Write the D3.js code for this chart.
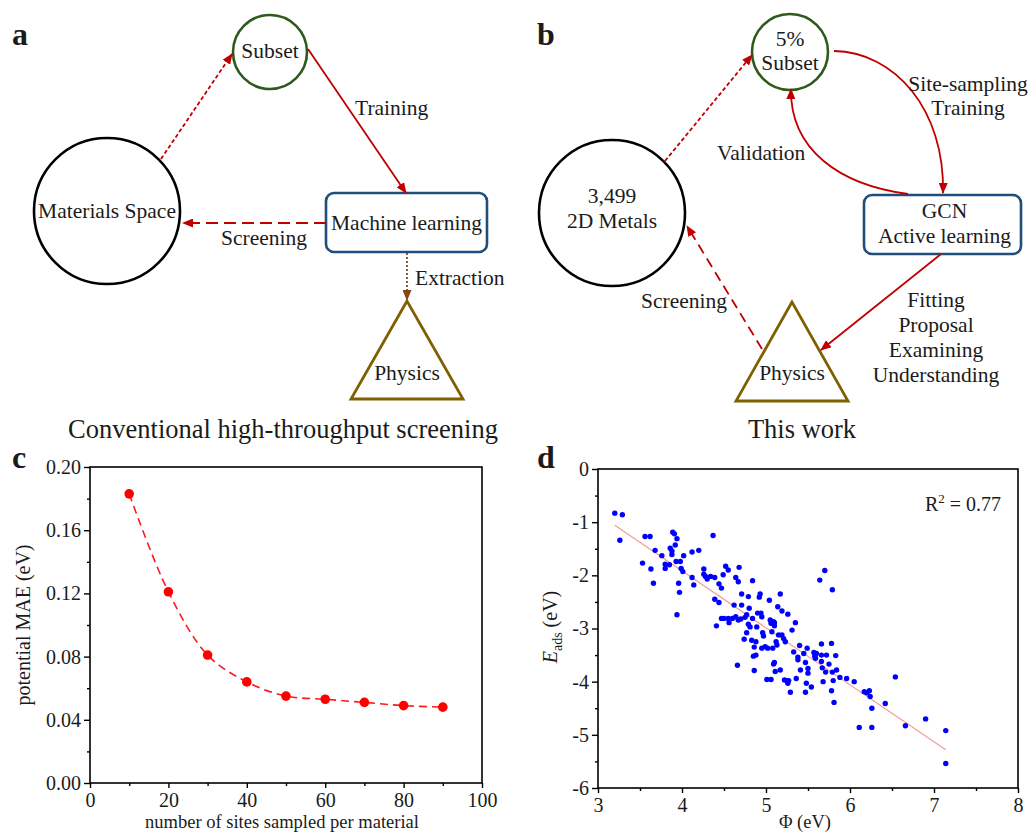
<!DOCTYPE html>
<html>
<head>
<meta charset="utf-8">
<script src="https://cdn.jsdelivr.net/npm/d3@7"></script>
<style>
  body { margin: 0; background: #fff; }
  svg { display: block; }
  text { font-family: "Liberation Serif", "Times New Roman", serif; fill: #1b1b1b; }
</style>
</head>
<body>
<svg id="fig" width="1030" height="832"></svg>
<script>
"use strict";

// ---- panel c : potential MAE vs number of sampled sites ----
const sitesSampled = [10, 20, 30, 40, 50, 60, 70, 80, 90];
const potentialMAE = [0.183, 0.121, 0.081, 0.064, 0.055, 0.053, 0.051, 0.049, 0.048];
const cTicksX = [0, 20, 40, 60, 80, 100];
const cMinorX = [10, 30, 50, 70, 90];
const cTicksY = [0, 0.04, 0.08, 0.12, 0.16, 0.20];
const cMinorY = [0.02, 0.06, 0.10, 0.14, 0.18];

// ---- panel d : adsorption energy vs work function ----
const workFunction = [
  3.20, 3.29, 3.26, 3.56, 3.62, 3.53, 3.63, 3.66, 3.68, 3.76,
  3.80, 3.80, 3.85, 3.86, 3.88, 3.88, 3.89, 3.91, 3.92, 3.93,
  3.94, 3.96, 3.97, 3.94, 3.98, 3.99, 4.01, 4.02, 4.12, 4.20,
  4.12, 4.14, 4.37, 4.26, 4.26, 4.28, 4.30, 4.34, 4.39, 4.44,
  4.47, 4.49, 4.39, 4.44, 4.41, 4.47, 4.50, 4.52, 4.55, 4.55,
  4.56, 4.60, 4.62, 4.64, 4.67, 4.68, 4.64, 4.67, 4.70, 4.71,
  4.71, 4.66, 4.74, 4.77, 4.75, 4.77, 4.79, 4.80, 4.79, 4.81,
  4.83, 4.84, 4.84, 4.86, 4.85, 4.88, 4.86, 4.88, 4.89, 4.90,
  4.92, 4.93, 4.94, 4.95, 4.96, 4.97, 4.95, 4.99, 5.01, 5.02,
  5.04, 5.05, 5.06, 5.07, 5.06, 5.08, 5.09, 5.10, 5.10, 5.09,
  5.10, 5.11, 5.12, 5.13, 5.14, 5.15, 5.17, 5.17, 5.19, 5.19,
  5.21, 5.23, 5.22, 5.25, 5.26, 5.27, 5.26, 5.29, 5.31, 5.33,
  5.35, 5.36, 5.38, 5.38, 5.40, 5.41, 5.45, 5.47, 5.47, 5.49,
  5.48, 5.50, 5.50, 5.54, 5.57, 5.58, 5.59, 5.60, 5.64, 5.66,
  5.66, 5.66, 5.67, 5.68, 5.70, 5.71, 5.72, 5.75, 5.78, 5.79,
  5.78, 5.79, 5.80, 5.81, 5.83, 5.84, 5.88, 5.96, 6.05, 6.11,
  6.17, 6.20, 6.23, 6.24, 6.26, 6.26, 6.42, 6.54, 6.66, 6.90,
  7.14, 7.14
];
const adsEnergy = [
  -0.83, -0.86, -1.34, -1.27, -1.27, -1.77, -1.88, -2.15, -1.53, -1.63,
  -1.79, -1.87, -1.80, -1.49, -1.54, -1.61, -1.19, -1.22, -1.43, -1.74,
  -1.31, -2.15, -2.32, -2.74, -1.74, -1.87, -1.93, -1.63, -1.56, -1.53,
  -2.04, -2.18, -1.25, -1.88, -1.98, -2.02, -2.07, -2.02, -2.04, -2.16,
  -2.24, -1.99, -2.45, -2.51, -2.95, -2.81, -2.81, -1.83, -1.90, -2.81,
  -2.89, -2.81, -2.56, -2.04, -2.12, -1.85, -2.78, -2.84, -2.82, -2.35,
  -2.56, -3.69, -3.20, -3.08, -2.79, -2.74, -2.40, -2.62, -2.92, -2.97,
  -3.22, -2.10, -2.81, -3.35, -3.52, -3.50, -3.79, -3.25, -2.97, -2.71,
  -2.41, -2.35, -2.71, -2.78, -3.08, -3.14, -3.37, -3.34, -3.96, -3.37,
  -2.47, -2.84, -2.90, -3.06, -3.96, -3.37, -2.87, -2.95, -2.89, -3.67,
  -3.64, -3.81, -3.25, -3.31, -2.59, -3.12, -2.35, -3.78, -3.12, -2.67,
  -3.19, -3.25, -3.97, -3.98, -4.03, -3.98, -2.73, -4.20, -3.03, -3.44,
  -2.89, -3.94, -3.54, -3.59, -3.32, -3.78, -3.47, -3.64, -4.20, -3.37,
  -4.03, -3.75, -3.84, -4.10, -3.45, -3.52, -3.56, -3.47, -2.09, -3.62,
  -3.29, -3.50, -3.74, -4.00, -1.91, -3.82, -3.50, -3.67, -3.28, -2.27,
  -4.17, -3.82, -3.98, -4.39, -3.51, -3.78, -3.92, -3.94, -4.00, -4.86,
  -4.19, -4.21, -4.17, -4.28, -4.50, -4.86, -4.41, -3.91, -4.83, -4.70,
  -4.92, -5.54
];
const dTicksX = [3, 4, 5, 6, 7, 8];
const dMinorX = [3.5, 4.5, 5.5, 6.5, 7.5];
const dTicksY = [0, -1, -2, -3, -4, -5, -6];
const dMinorY = [-0.5, -1.5, -2.5, -3.5, -4.5, -5.5];
const rSquaredText = "0.77";

const RED = "#c00000";
const BROWN = "#8b4513";

const svg = d3.select("#fig");

/**
 * Defines the arrow head markers used by the diagram arrows.
 */
function createMarkers(svg) {
  let defs = svg.append("defs");
  [["head-red", RED], ["head-brown", BROWN]].forEach(([id, color]) => {
    defs.append("marker")
      .attr("id", id)
      .attr("markerUnits", "userSpaceOnUse")
      .attr("markerWidth", 11)
      .attr("markerHeight", 9)
      .attr("refX", 10)
      .attr("refY", 4.5)
      .attr("orient", "auto")
      .append("path")
      .attr("d", "M0,0 L11,4.5 L0,9 Z")
      .attr("fill", color);
  });
}

/**
 * Writes a block of centred text lines.
 */
function writeLines(g, x, y, lines, size, lineHeight, anchor) {
  let t = g.append("text")
    .attr("x", x)
    .attr("y", y)
    .attr("font-size", size)
    .attr("text-anchor", anchor || "middle");
  lines.forEach((line, i) => {
    t.append("tspan")
      .attr("x", x)
      .attr("dy", i == 0 ? 0 : lineHeight)
      .text(line);
  });
}

function drawCircleNode(g, node, color) {
  g.append("circle")
    .attr("cx", node.cx).attr("cy", node.cy).attr("r", node.r)
    .attr("fill", "none").attr("stroke", color).attr("stroke-width", 2.6);
}

function drawRectNode(g, node) {
  g.append("rect")
    .attr("x", node.x).attr("y", node.y)
    .attr("width", node.w).attr("height", node.h)
    .attr("rx", 8)
    .attr("fill", "none").attr("stroke", "#1f4e79").attr("stroke-width", 2.6);
}

function drawTriangleNode(g, node) {
  let pts = [[node.cx, node.top], [node.cx - node.half, node.base], [node.cx + node.half, node.base]];
  g.append("path")
    .attr("d", "M" + pts.join("L") + "Z")
    .attr("fill", "none").attr("stroke", "#7f6000").attr("stroke-width", 2.8)
    .attr("stroke-linejoin", "miter");
}

function drawArrow(g, d, color, dash, marker) {
  g.append("path")
    .attr("d", d)
    .attr("fill", "none")
    .attr("stroke", color)
    .attr("stroke-width", 1.8)
    .attr("stroke-dasharray", dash)
    .attr("marker-end", "url(#" + marker + ")");
}

/**
 * Panel a : conventional high-throughput screening workflow.
 */
function drawPanelA(g) {
  let subset = { cx: 270, cy: 52, r: 37 };
  let space = { cx: 107, cy: 211, r: 73 };
  let ml = { x: 326, y: 193, w: 161, h: 59 };
  let phys = { cx: 407, top: 301, base: 399, half: 56 };

  drawCircleNode(g, subset, "#2e5a1c");
  drawCircleNode(g, space, "#000");
  drawRectNode(g, ml);
  drawTriangleNode(g, phys);

  drawArrow(g, "M161,159 L232,54", RED, "4,2.5", "head-red");
  drawArrow(g, "M308,49 L406,193", RED, null, "head-red");
  drawArrow(g, "M326,223 L183,223", RED, "12,6", "head-red");
  drawArrow(g, "M407,253 L407,300", BROWN, "2,2", "head-brown");

  writeLines(g, subset.cx, 58, ["Subset"], 21.5);
  writeLines(g, space.cx, 218, ["Materials Space"], 21.5);
  writeLines(g, ml.x + ml.w / 2, 230, ["Machine learning"], 21.5);
  writeLines(g, phys.cx, 380, ["Physics"], 21.5);
  writeLines(g, 355, 115, ["Training"], 21.5, 0, "start");
  writeLines(g, 221, 245, ["Screening"], 21.5, 0, "start");
  writeLines(g, 415, 285, ["Extraction"], 21.5, 0, "start");
  writeLines(g, 283, 438, ["Conventional high-throughput screening"], 26.5);

  g.append("text").attr("x", 12).attr("y", 45)
    .attr("font-size", 32).attr("font-weight", "bold").text("a");
}

/**
 * Panel b : active learning workflow of this work.
 */
function drawPanelB(g) {
  let subset = { cx: 790, cy: 52, r: 38 };
  let metals = { cx: 612, cy: 213, r: 73 };
  let gcn = { x: 864, y: 195, w: 157, h: 59 };
  let phys = { cx: 792, top: 302, base: 401, half: 56 };

  drawCircleNode(g, subset, "#2e5a1c");
  drawCircleNode(g, metals, "#000");
  drawRectNode(g, gcn);
  drawTriangleNode(g, phys);

  drawArrow(g, "M665,161 L752,55", RED, "4,2.5", "head-red");
  drawArrow(g, "M834,51 C895,52 945,110 943,193", RED, null, "head-red");
  drawArrow(g, "M908,194 C840,185 790,150 791,89", RED, null, "head-red");
  drawArrow(g, "M941,254 L821,350", RED, null, "head-red");
  drawArrow(g, "M762,349 L687,226", RED, "10,6", "head-red");

  writeLines(g, subset.cx, 46, ["5%", "Subset"], 21.5, 24);
  writeLines(g, metals.cx, 203, ["3,499", "2D Metals"], 21.5, 25);
  writeLines(g, gcn.x + gcn.w / 2 + 2, 218, ["GCN", "Active learning"], 21.5, 25);
  writeLines(g, phys.cx, 380, ["Physics"], 21.5);
  writeLines(g, 968, 91, ["Site-sampling", "Training"], 21.5, 24);
  writeLines(g, 717, 160, ["Validation"], 21.5, 0, "start");
  writeLines(g, 641, 308, ["Screening"], 21.5, 0, "start");
  writeLines(g, 936, 307, ["Fitting", "Proposal", "Examining", "Understanding"], 21.5, 25);
  writeLines(g, 802, 438, ["This work"], 26.5);

  g.append("text").attr("x", 537).attr("y", 45)
    .attr("font-size", 32).attr("font-weight", "bold").text("b");
}

/**
 * Draws a framed axis box with major and minor outward ticks.
 */
function drawFrame(g, x, y, opts) {
  let [x0, x1] = x.range();
  let [y0, y1] = y.range();

  g.append("g").attr("transform", "translate(0," + y0 + ")")
    .call(d3.axisBottom(x).tickValues(opts.ticksX).tickSize(5).tickPadding(5).tickFormat(opts.fmtX));
  g.append("g").attr("transform", "translate(0," + y0 + ")")
    .call(d3.axisBottom(x).tickValues(opts.minorX).tickSize(3).tickFormat(""));
  g.append("g").attr("transform", "translate(" + x0 + ",0)")
    .call(d3.axisLeft(y).tickValues(opts.ticksY).tickSize(6).tickPadding(3).tickFormat(opts.fmtY));
  g.append("g").attr("transform", "translate(" + x0 + ",0)")
    .call(d3.axisLeft(y).tickValues(opts.minorY).tickSize(3).tickFormat(""));

  g.selectAll(".domain").remove();
  g.selectAll(".tick line").attr("stroke", "#000").attr("stroke-width", 1.4);
  g.selectAll(".tick text")
    .attr("font-family", "'Liberation Serif', serif")
    .attr("font-size", 20)
    .attr("fill", "#111");

  g.append("rect")
    .attr("x", x0).attr("y", y1)
    .attr("width", x1 - x0).attr("height", y0 - y1)
    .attr("fill", "none").attr("stroke", "#000").attr("stroke-width", 1.6);
}

/**
 * Panel c : convergence of the potential MAE.
 */
function drawPanelC(g) {
  let x = d3.scaleLinear().domain([0, 100]).range([90, 482]);
  let y = d3.scaleLinear().domain([0, 0.2]).range([783, 467]);
  let data = sitesSampled.map((s, i) => ({ s: s, v: potentialMAE[i] }));

  drawFrame(g, x, y, {
    ticksX: cTicksX, minorX: cMinorX, ticksY: cTicksY, minorY: cMinorY,
    fmtX: d3.format("d"), fmtY: d3.format(".2f")
  });

  let line = d3.line().x(d => x(d.s)).y(d => y(d.v)).curve(d3.curveCatmullRom.alpha(0.5));
  g.append("path")
    .datum(data)
    .attr("d", line)
    .attr("fill", "none")
    .attr("stroke", "#ff1a1a")
    .attr("stroke-width", 1.6)
    .attr("stroke-dasharray", "8,5");

  g.selectAll("circle.pt")
    .data(data)
    .enter()
    .append("circle")
    .classed("pt", true)
    .attr("cx", d => x(d.s))
    .attr("cy", d => y(d.v))
    .attr("r", 4.8)
    .attr("fill", "#ff0000");

  g.append("text")
    .attr("transform", "translate(30,625) rotate(-90)")
    .attr("text-anchor", "middle")
    .attr("font-size", 20)
    .text("potential MAE (eV)");
  g.append("text")
    .attr("x", 282).attr("y", 828)
    .attr("text-anchor", "middle")
    .attr("font-size", 18.5)
    .text("number of sites sampled per material");

  g.append("text").attr("x", 12).attr("y", 468)
    .attr("font-size", 32).attr("font-weight", "bold").text("c");
}

/**
 * Panel d : correlation of adsorption energy with the work function.
 */
function drawPanelD(g) {
  let x = d3.scaleLinear().domain([3, 8]).range([598, 1018]);
  let y = d3.scaleLinear().domain([-6, 0]).range([788, 469]);
  let data = workFunction.map((w, i) => ({ w: w, e: adsEnergy[i] }));

  drawFrame(g, x, y, {
    ticksX: dTicksX, minorX: dMinorX, ticksY: dTicksY, minorY: dMinorY,
    fmtX: d => String(d), fmtY: d => String(d)
  });

  // least-squares fit of the points
  let mx = d3.mean(data, d => d.w);
  let my = d3.mean(data, d => d.e);
  let slope = d3.sum(data, d => (d.w - mx) * (d.e - my)) / d3.sum(data, d => (d.w - mx) ** 2);
  let fit = d3.extent(data, d => d.w).map(w => ({ w: w, e: my + slope * (w - mx) }));

  g.append("path")
    .datum(fit)
    .attr("d", d3.line().x(d => x(d.w)).y(d => y(d.e)))
    .attr("stroke", "#f49a9a")
    .attr("stroke-width", 1.2);

  g.selectAll("circle.pt")
    .data(data)
    .enter()
    .append("circle")
    .classed("pt", true)
    .attr("cx", d => x(d.w))
    .attr("cy", d => y(d.e))
    .attr("r", 2.7)
    .attr("fill", "#0000ff");

  let r2 = g.append("text").attr("x", 925).attr("y", 511).attr("font-size", 20);
  r2.append("tspan").text("R");
  r2.append("tspan").attr("dy", -8).attr("font-size", 13).text("2");
  r2.append("tspan").attr("dy", 8).text(" = " + rSquaredText);

  let yl = g.append("text")
    .attr("transform", "translate(557,627) rotate(-90)")
    .attr("text-anchor", "middle")
    .attr("font-size", 20);
  yl.append("tspan").attr("font-style", "italic").text("E");
  yl.append("tspan").attr("dy", 5).attr("font-size", 14).text("ads");
  yl.append("tspan").attr("dy", -5).text(" (eV)");

  g.append("text")
    .attr("x", 805).attr("y", 828)
    .attr("text-anchor", "middle")
    .attr("font-size", 18.5)
    .text("\u03a6 (eV)");

  g.append("text").attr("x", 537).attr("y", 468)
    .attr("font-size", 32).attr("font-weight", "bold").text("d");
}

createMarkers(svg);
drawPanelA(svg.append("g"));
drawPanelB(svg.append("g"));
drawPanelC(svg.append("g"));
drawPanelD(svg.append("g"));
</script>
</body>
</html>
